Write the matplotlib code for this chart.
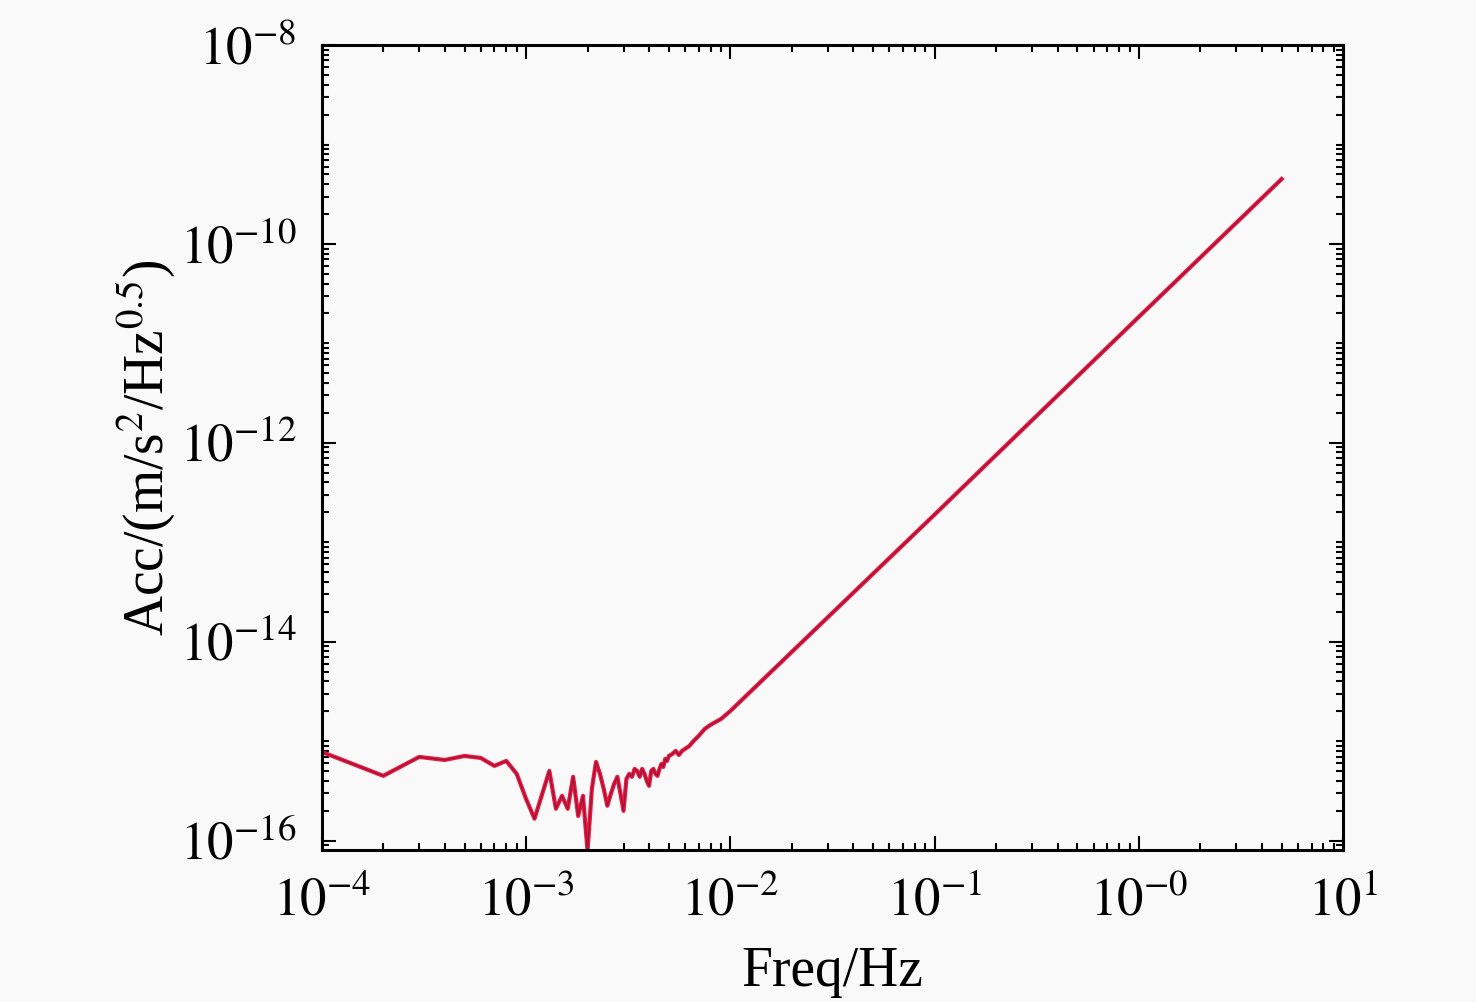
import numpy as np
import matplotlib
matplotlib.use("Agg")
import matplotlib.pyplot as plt
from matplotlib.ticker import LogLocator, NullFormatter

plt.rcParams['font.family'] = ['Liberation Serif', 'DejaVu Serif']
plt.rcParams['mathtext.fontset'] = 'stix'

# frequency grid (Hz) and amplitude spectral density
freq = [1e-4, 2e-4, 3e-4, 4e-4, 5e-4, 6e-4, 7e-4, 8e-4, 9e-4, 1.0e-3,
        1.1e-3, 1.2e-3, 1.3e-3, 1.4e-3, 1.5e-3, 1.6e-3, 1.7e-3, 1.8e-3, 1.9e-3, 2.0e-3,
        2.1e-3, 2.2e-3, 2.3e-3, 2.4e-3, 2.5e-3, 2.6e-3, 2.7e-3, 2.8e-3, 2.9e-3, 3.0e-3,
        3.1e-3, 3.2e-3, 3.3e-3, 3.4e-3, 3.5e-3, 3.6e-3, 3.7e-3, 3.8e-3, 3.9e-3, 4.0e-3,
        4.1e-3, 4.2e-3, 4.3e-3, 4.4e-3, 4.5e-3, 4.6e-3, 4.7e-3, 4.8e-3, 4.9e-3, 5.0e-3,
        5.2e-3, 5.4e-3, 5.6e-3, 5.8e-3, 6.0e-3, 6.3e-3, 6.6e-3, 7.0e-3, 7.5e-3, 8.0e-3,
        9.0e-3, 1.0e-2, 1e-1, 1.0, 5.0]
acc = [7.80e-16, 4.48e-16, 6.94e-16, 6.47e-16, 7.10e-16, 6.78e-16, 5.64e-16, 6.33e-16, 4.69e-16, 2.63e-16,
       1.66e-16, 2.95e-16, 5.02e-16, 2.09e-16, 2.82e-16, 2.09e-16, 4.38e-16, 1.77e-16, 2.82e-16, 7.9e-17,
       3.31e-16, 6.18e-16, 4.69e-16, 3.31e-16, 2.24e-16, 2.95e-16, 3.72e-16, 4.38e-16, 2.95e-16, 1.99e-16,
       4.17e-16, 4.69e-16, 4.38e-16, 5.26e-16, 5.02e-16, 4.38e-16, 5.26e-16, 4.69e-16, 3.98e-16, 3.55e-16,
       5.02e-16, 5.26e-16, 4.69e-16, 4.48e-16, 5.26e-16, 5.90e-16, 5.51e-16, 6.62e-16, 6.33e-16, 7.10e-16,
       7.43e-16, 7.98e-16, 7.26e-16, 7.98e-16, 8.35e-16, 8.95e-16, 1.00e-15, 1.13e-15, 1.33e-15, 1.46e-15,
       1.67e-15, 2.01e-15, 1.9e-13, 1.85e-11, 4.5e-10]

xticks = [1e-4, 1e-3, 1e-2, 1e-1, 1e0, 1e1]
xlabels = ['$10^{-4}$', '$10^{-3}$', '$10^{-2}$', '$10^{-1}$', '$10^{-0}$', '$10^{1}$']
yticks = [1e-16, 1e-14, 1e-12, 1e-10, 1e-8]
ylabels = ['$10^{-16}$', '$10^{-14}$', '$10^{-12}$', '$10^{-10}$', '$10^{-8}$']

fig = plt.figure(figsize=(14.76, 10.02), dpi=100)
fig.patch.set_facecolor('#f9f9f9')
ax = fig.add_axes([0.218, 0.152, 0.692, 0.803])
ax.set_facecolor('#f9f9f9')

ax.loglog(freq, acc, color='#f0163f', lw=3.0)
ax.loglog(freq, acc, color='#3c1c34', lw=1.0, alpha=0.5)

ax.set_xlim(1e-4, 1e1)
ax.set_ylim(8.1e-17, 1e-8)

ax.set_xticks(xticks, xlabels)
ax.set_yticks(yticks, ylabels)
ax.xaxis.set_minor_locator(LogLocator(base=10, subs=np.arange(2, 10), numticks=50))
ax.yaxis.set_minor_locator(LogLocator(base=10, subs=np.arange(1, 10), numticks=50))
ax.xaxis.set_minor_formatter(NullFormatter())
ax.yaxis.set_minor_formatter(NullFormatter())

ax.tick_params(which='both', direction='in', top=True, right=True, width=1.5)
ax.tick_params(which='major', length=10, labelsize=38, pad=18)
ax.tick_params(which='minor', length=5)
ax.tick_params(axis='x', which='major', pad=20)
for s in ax.spines.values():
    s.set_linewidth(2.2)

ax.set_xlabel('Freq/Hz', fontsize=40, labelpad=14)
ax.set_ylabel('Acc/(m/s$^{2}$/Hz$^{0.5}$)', fontsize=40, labelpad=2)

fig.savefig('out.png', dpi=100, facecolor=fig.get_facecolor())
